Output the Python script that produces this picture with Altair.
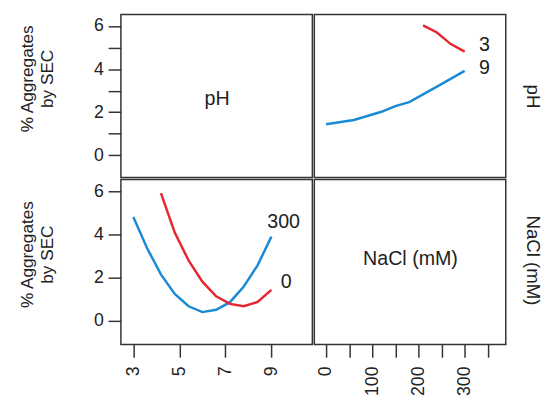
import altair as alt
import pandas as pd

# ---- data ----
# bottom-left panel: x = pH, one line per NaCl level
ph_blue = [3.0, 3.6, 4.2, 4.8, 5.4, 6.0, 6.6, 7.2, 7.8, 8.4, 9.0]
nacl300_vals = [4.82, 3.37, 2.16, 1.25, 0.68, 0.41, 0.52, 0.87, 1.60, 2.58, 3.91]
ph_red = [4.2, 4.8, 5.4, 6.0, 6.6, 7.2, 7.8, 8.4, 9.0]
nacl0_vals = [5.93, 4.10, 2.81, 1.82, 1.14, 0.79, 0.68, 0.88, 1.44]

# top-right panel: x = NaCl (mM), one line per pH level
nacl_blue = [0, 60, 120, 150, 180, 240, 300]
ph9_vals = [1.44, 1.64, 2.02, 2.28, 2.47, 3.19, 3.92]
nacl_red = [210, 240, 270, 300]
ph3_vals = [6.03, 5.70, 5.16, 4.81]

# line-end labels
bl_label_text = ["300", "0"]
bl_label_x = [8.82, 9.41]
bl_label_y = [4.58, 1.82]
tr_label_text = ["3", "9"]
tr_label_x = [331, 331]
tr_label_y = [5.13, 4.03]

# diagonal cell labels
diag_text = ["pH", "NaCl (mM)"]

RED = "#e8262d"
BLUE = "#1a8ad4"
FONT = "Liberation Sans"
W_L, W_R = 195, 195
H_T, H_B = 166, 168

ph_scale = alt.Scale(domain=[2.46, 10.78], nice=False, zero=False)
nacl_scale = alt.Scale(domain=[-25.5, 389], nice=False, zero=False)
top_y = alt.Scale(domain=[-1.03, 6.53], nice=False, zero=False)
bot_y = alt.Scale(domain=[-1.09, 6.56], nice=False, zero=False)
col_scale = alt.Scale(domain=["red", "blue"], range=[RED, BLUE])

y_title = ["% Aggregates", "by SEC"]


def left_y_axis(title_y):
    return alt.Axis(
        values=[0, 1, 2, 3, 4, 5, 6],
        labelExpr="datum.value % 2 === 0 ? datum.label : ''",
        title=y_title, titleAngle=270, titleX=-95, titleY=title_y,
        titleAlign="center", titleBaseline="middle",
        titleFontSize=17.5, titleFont=FONT, titleFontWeight="normal",
        titleLineHeight=20, titleColor="#222",
        labelPadding=5,
    )


def right_axis(title, title_y):
    return alt.Axis(
        orient="right", labels=False, ticks=False, domain=False,
        title=title, titleAngle=90, titleX=27, titleY=title_y,
        titleAlign="center", titleBaseline="middle",
        titleFontSize=19, titleFont=FONT, titleFontWeight="normal",
        titleColor="#222",
    )


bl_lines = pd.DataFrame({
    "x": ph_blue + ph_red,
    "y": nacl300_vals + nacl0_vals,
    "s": ["blue"] * len(ph_blue) + ["red"] * len(ph_red),
})
tr_lines = pd.DataFrame({
    "x": nacl_blue + nacl_red,
    "y": ph9_vals + ph3_vals,
    "s": ["blue"] * len(nacl_blue) + ["red"] * len(nacl_red),
})
bl_labels = pd.DataFrame({"x": bl_label_x, "y": bl_label_y, "t": bl_label_text})
tr_labels = pd.DataFrame({"x": tr_label_x, "y": tr_label_y, "t": tr_label_text})
tl_text = pd.DataFrame({"x": [6.64], "y": [2.61], "t": [diag_text[0]]})
br_text = pd.DataFrame({"x": [182.7], "y": [2.87], "t": [diag_text[1]]})

# --- top-left: diagonal cell "pH"
tl = alt.Chart(tl_text).mark_text(font=FONT, fontSize=20, color="#222").encode(
    x=alt.X("x:Q", scale=ph_scale, axis=None),
    y=alt.Y("y:Q", scale=top_y, axis=left_y_axis(65)),
    text="t:N",
).properties(width=W_L, height=H_T)

# --- top-right: lines vs NaCl
tr_base = alt.Chart(tr_lines).mark_line(strokeWidth=2.5).encode(
    x=alt.X("x:Q", scale=nacl_scale, axis=None),
    y=alt.Y("y:Q", scale=top_y, axis=right_axis("pH", 83)),
    color=alt.Color("s:N", scale=col_scale, legend=None),
    detail="s:N",
)
tr_txt = alt.Chart(tr_labels).mark_text(font=FONT, fontSize=20, color="#222",
                                        align="left", baseline="middle").encode(
    x=alt.X("x:Q", scale=nacl_scale, axis=None),
    y=alt.Y("y:Q", scale=top_y),
    text="t:N",
)
tr = alt.layer(tr_base, tr_txt).properties(width=W_R, height=H_T)

# --- bottom-left: lines vs pH
bl_base = alt.Chart(bl_lines).mark_line(strokeWidth=2.5).encode(
    x=alt.X("x:Q", scale=ph_scale, axis=alt.Axis(
        values=[3, 4, 5, 6, 7, 8, 9, 10],
        labelExpr="datum.value % 2 === 1 ? datum.label : ''",
        labelAngle=270, labelAlign="right", labelBaseline="middle",
        labelPadding=9, title=None)),
    y=alt.Y("y:Q", scale=bot_y, axis=left_y_axis(76)),
    color=alt.Color("s:N", scale=col_scale, legend=None),
    detail="s:N",
)
bl_txt = alt.Chart(bl_labels).mark_text(font=FONT, fontSize=20, color="#222",
                                        align="left", baseline="middle").encode(
    x=alt.X("x:Q", scale=ph_scale),
    y=alt.Y("y:Q", scale=bot_y),
    text="t:N",
)
bl = alt.layer(bl_base, bl_txt).properties(width=W_L, height=H_B)

# --- bottom-right: diagonal cell "NaCl (mM)"
br = alt.Chart(br_text).mark_text(font=FONT, fontSize=20, color="#222").encode(
    x=alt.X("x:Q", scale=nacl_scale, axis=alt.Axis(
        values=[0, 50, 100, 150, 200, 250, 300, 350],
        labelExpr="(datum.value % 100 === 0 && datum.value <= 300) ? datum.label : ''",
        labelAngle=270, labelAlign="right", labelBaseline="middle",
        labelPadding=9, title=None)),
    y=alt.Y("y:Q", scale=bot_y, axis=right_axis(diag_text[1], 82)),
    text="t:N",
).properties(width=W_R, height=H_B)

top = alt.hconcat(tl, tr, spacing=0).resolve_scale(x="independent", y="independent")
bottom = alt.hconcat(bl, br, spacing=0).resolve_scale(x="independent", y="independent")

chart = alt.vconcat(top, bottom, spacing=0).properties(
    padding={"left": 10, "top": 2, "right": 5, "bottom": 5},
    background="white",
).configure_view(
    stroke="#333", strokeWidth=1.5
).configure_axis(
    grid=False, domain=False, tickColor="#333", tickWidth=1.5, tickSize=13,
    labelFont=FONT, labelFontSize=18, labelColor="#222",
)

chart.save("out.html", embed_options={"renderer": "svg", "actions": False})
